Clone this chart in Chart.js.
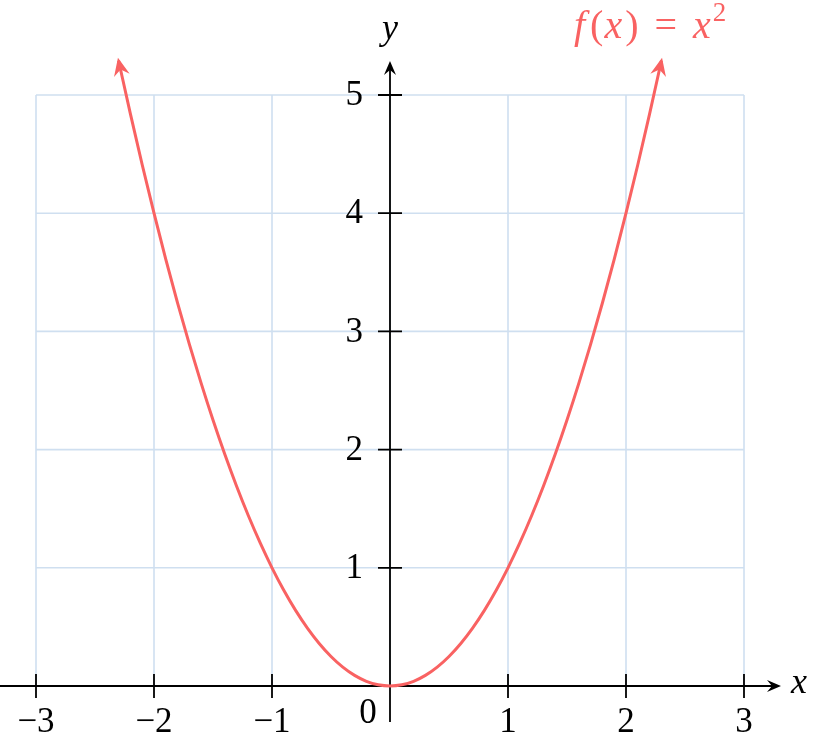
<!DOCTYPE html>
<html>
<head>
<meta charset="utf-8">
<script src="https://cdn.jsdelivr.net/npm/chart.js@4"></script>
<style>
  html, body { margin: 0; padding: 0; background: #fff; }
  #wrap { width: 816px; height: 737px; }
</style>
</head>
<body>
<div id="wrap"><canvas id="parabola" width="816" height="737"></canvas></div>
<script>
const xValues = [-2.3, -2.2, -2.1, -2.0, -1.9, -1.8, -1.7, -1.6, -1.5, -1.4, -1.3, -1.2, -1.1, -1.0,
  -0.9, -0.8, -0.7, -0.6, -0.5, -0.4, -0.3, -0.2, -0.1, 0.0, 0.1, 0.2, 0.3, 0.4, 0.5, 0.6, 0.7,
  0.8, 0.9, 1.0, 1.1, 1.2, 1.3, 1.4, 1.5, 1.6, 1.7, 1.8, 1.9, 2.0, 2.1, 2.2, 2.3];
const yValues = [5.29, 4.84, 4.41, 4.0, 3.61, 3.24, 2.89, 2.56, 2.25, 1.96, 1.69, 1.44, 1.21, 1.0,
  0.81, 0.64, 0.49, 0.36, 0.25, 0.16, 0.09, 0.04, 0.01, 0.0, 0.01, 0.04, 0.09, 0.16, 0.25, 0.36, 0.49,
  0.64, 0.81, 1.0, 1.21, 1.44, 1.69, 1.96, 2.25, 2.56, 2.89, 3.24, 3.61, 4.0, 4.41, 4.84, 5.29];
const xTicks = [-3, -2, -1, 1, 2, 3];
const yTicks = [1, 2, 3, 4, 5];
const xTickLabels = ['\u22123', '\u22122', '\u22121', '1', '2', '3'];
const yTickLabels = ['1', '2', '3', '4', '5'];

const curveColor = '#f96262';
const gridColor = '#cfdff0';
const serif = '"Liberation Serif", "DejaVu Serif", serif';

// stealth-style arrow head, tip at (x, y), pointing along angle a
function arrowHead(ctx, x, y, a, color, len, half, notch) {
    ctx.save();
    ctx.translate(x, y);
    ctx.rotate(a);
    ctx.fillStyle = color;
    ctx.beginPath();
    ctx.moveTo(0, 0);
    ctx.lineTo(-len, -half);
    ctx.lineTo(-notch, 0);
    ctx.lineTo(-len, half);
    ctx.closePath();
    ctx.fill();
    ctx.restore();
}

const axesPlugin = {
    id: 'axes',
    beforeDatasetsDraw(chart) {
        const ctx = chart.ctx;
        const xs = chart.scales.x, ys = chart.scales.y;
        const x0 = xs.getPixelForValue(0), y0 = ys.getPixelForValue(0);
        const left = xs.getPixelForValue(-3), right = xs.getPixelForValue(3);
        const top = ys.getPixelForValue(5);

        // grid
        ctx.save();
        ctx.strokeStyle = gridColor;
        ctx.lineWidth = 1.6;
        ctx.beginPath();
        for (let v = -3; v <= 3; v++) {
            const px = xs.getPixelForValue(v);
            ctx.moveTo(px, top); ctx.lineTo(px, y0);
        }
        for (let v = 1; v <= 5; v++) {
            const py = ys.getPixelForValue(v);
            ctx.moveTo(left, py); ctx.lineTo(right, py);
        }
        ctx.stroke();

        // axes
        ctx.strokeStyle = '#000';
        ctx.lineWidth = 1.8;
        ctx.beginPath();
        ctx.moveTo(0, y0); ctx.lineTo(776, y0);
        ctx.moveTo(x0, 722); ctx.lineTo(x0, 67);
        ctx.stroke();
        arrowHead(ctx, 781, y0, 0, '#000', 14, 6, 9);
        arrowHead(ctx, x0, 61, -Math.PI / 2, '#000', 14, 6, 9);

        // tick marks
        ctx.beginPath();
        xTicks.forEach(v => {
            const px = xs.getPixelForValue(v);
            ctx.moveTo(px, y0 - 12); ctx.lineTo(px, y0 + 12);
        });
        yTicks.forEach(v => {
            const py = ys.getPixelForValue(v);
            ctx.moveTo(x0 - 12, py); ctx.lineTo(x0 + 12, py);
        });
        ctx.stroke();

        // tick labels
        ctx.fillStyle = '#000';
        ctx.font = '35px ' + serif;
        ctx.textAlign = 'center';
        ctx.textBaseline = 'middle';
        xTicks.forEach((v, i) => {
            ctx.fillText(xTickLabels[i], xs.getPixelForValue(v), y0 + 37);
        });
        ctx.fillText('0', x0 - 22, y0 + 28);
        ctx.textAlign = 'right';
        yTicks.forEach((v, i) => {
            ctx.fillText(yTickLabels[i], x0 - 27, ys.getPixelForValue(v) + 1);
        });

        // axis names
        ctx.font = 'italic 36px ' + serif;
        ctx.textAlign = 'center';
        ctx.fillText('y', x0, 30);
        ctx.textAlign = 'left';
        ctx.fillText('x', 791, y0 - 2);
        ctx.restore();
    },
    afterDatasetsDraw(chart) {
        const ctx = chart.ctx;
        const pts = chart.getDatasetMeta(0).data;
        const n = pts.length;
        ctx.save();
        const aL = Math.atan2(pts[0].y - pts[1].y, pts[0].x - pts[1].x);
        const aR = Math.atan2(pts[n - 1].y - pts[n - 2].y, pts[n - 1].x - pts[n - 2].x);
        arrowHead(ctx, pts[0].x + Math.cos(aL) * 3, pts[0].y + Math.sin(aL) * 3, aL, curveColor, 18, 8, 12);
        arrowHead(ctx, pts[n - 1].x + Math.cos(aR) * 3, pts[n - 1].y + Math.sin(aR) * 3, aR, curveColor, 18, 8, 12);

        // function label
        ctx.fillStyle = curveColor;
        ctx.textBaseline = 'alphabetic';
        ctx.textAlign = 'left';
        let x = 574;
        const base = 38;
        const parts = [
            ['italic 40px ', 'f', 5], ['40px ', '(', 1], ['italic 40px ', 'x', 3], ['40px ', ')', 16],
            ['40px ', '=', 16], ['italic 40px ', 'x', 2]
        ];
        parts.forEach(([f, t, gap]) => {
            ctx.font = f + serif;
            ctx.fillText(t, x, base);
            x += ctx.measureText(t).width + gap;
        });
        ctx.font = '27px ' + serif;
        ctx.fillText('2', x, base - 17);
        ctx.restore();
    }
};

const ctx = document.getElementById('parabola');
new Chart(ctx, {
    type: 'scatter',
    data: {
        datasets: [{
            label: 'f(x) = x^2',
            data: xValues.map((x, i) => ({ x: x, y: yValues[i] })),
            showLine: true,
            borderColor: curveColor,
            borderWidth: 3,
            pointRadius: 0,
            fill: false,
            cubicInterpolationMode: 'monotone'
        }]
    },
    options: {
        responsive: false,
        animation: false,
        layout: { padding: 0 },
        plugins: {
            legend: { display: false },
            tooltip: { enabled: false }
        },
        scales: {
            x: { type: 'linear', min: -3.3051, max: 3.6102, display: false },
            y: { type: 'linear', min: -0.4315, max: 5.8037, display: false }
        }
    },
    plugins: [axesPlugin]
});
</script>
</body>
</html>
